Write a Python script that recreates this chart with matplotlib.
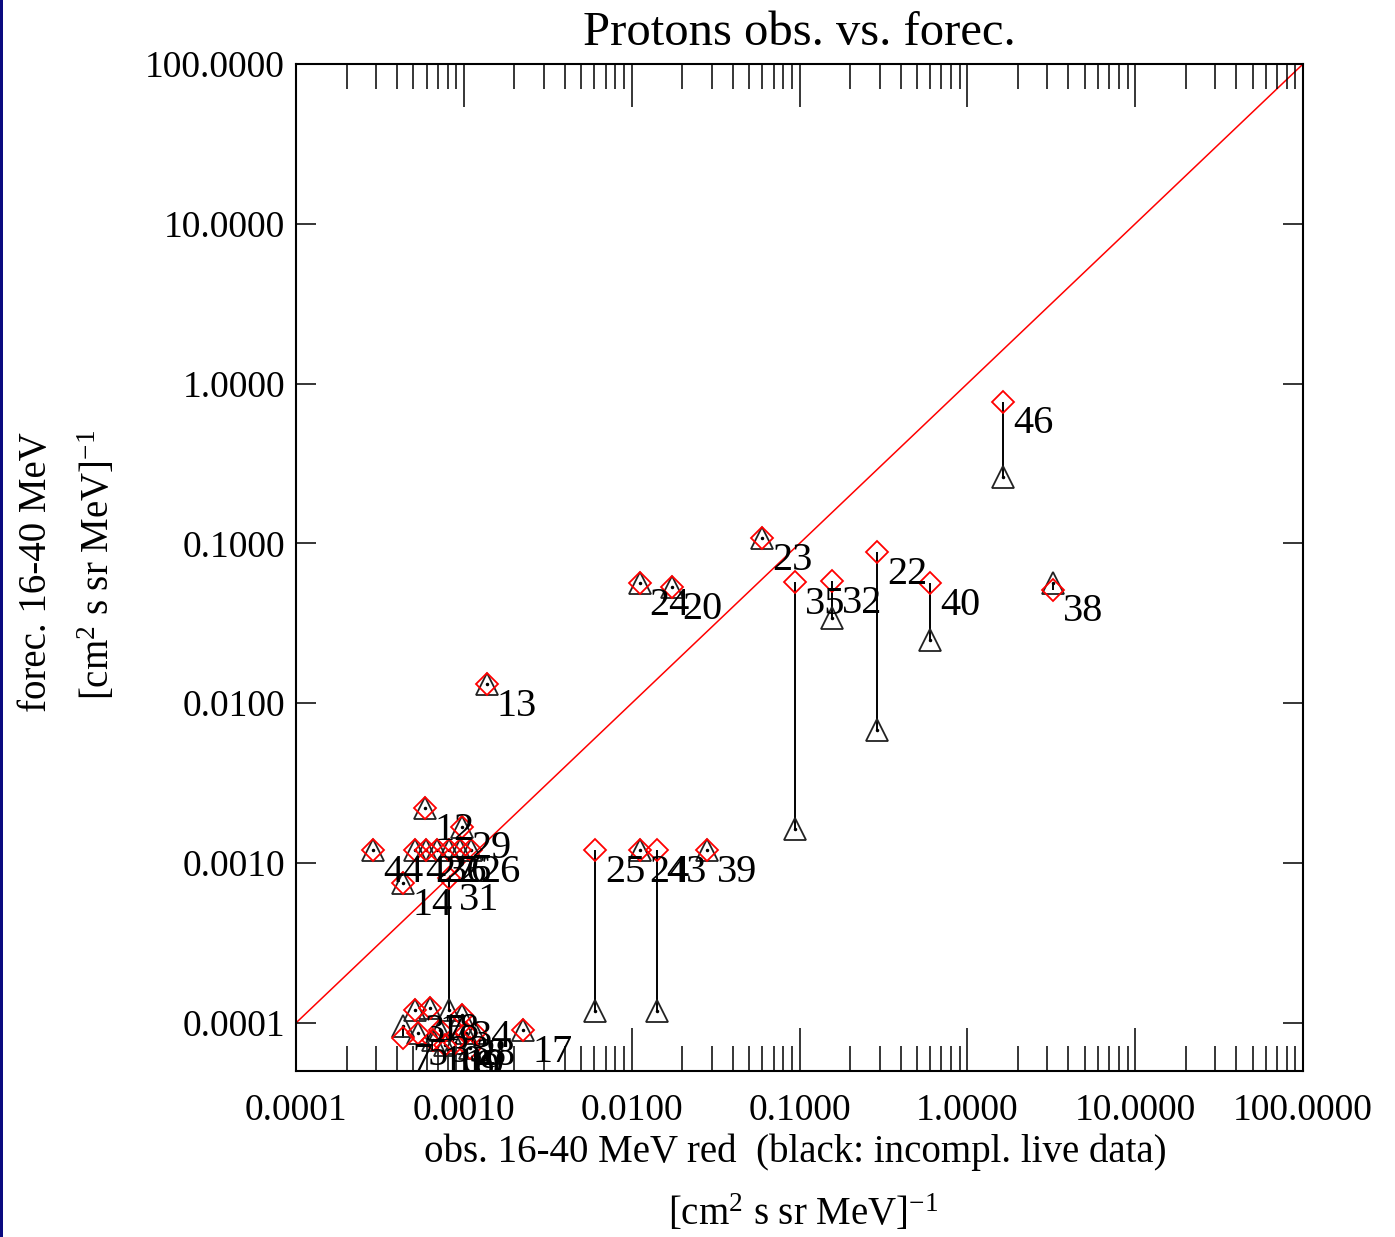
import numpy as np
import matplotlib.pyplot as plt
from matplotlib.ticker import LogLocator, FixedLocator, NullLocator, FuncFormatter
from matplotlib.patches import Rectangle

plt.rcParams['font.family'] = ['Liberation Serif', 'DejaVu Serif']
plt.rcParams['mathtext.fontset'] = 'custom'
plt.rcParams['mathtext.rm'] = 'Liberation Serif'
plt.rcParams['mathtext.it'] = 'Liberation Serif:italic'

# event labels, observed flux (x), forecast from red data and from incomplete live data (black)
labels = ['46', '38', '40', '22', '32', '35', '23', '24', '20', '13',
          '25', '24', '43', '39', '12', '29', '14', '31',
          '44', '42', '27', '36', '2', '6', '26',
          '7', '37', '5', '18', '10', '33', '16', '19', '34', '28', '9', '8', '17']
obs = [1.64, 3.25, 0.600, 0.290, 0.156, 0.0938, 0.0598, 0.0112, 0.0174, 0.00137,
       0.00605, 0.0112, 0.01415, 0.0281, 0.000588, 0.000975, 0.000434, 0.000817,
       0.000288, 0.000512, 0.000595, 0.000692, 0.000817, 0.000949, 0.00110,
       0.000434, 0.000512, 0.000534, 0.000628, 0.000654, 0.000721, 0.000771,
       0.000886, 0.000975, 0.00103, 0.00109, 0.00117, 0.00225]
fc_red = [0.770, 0.0513, 0.0567, 0.0885, 0.0583, 0.0575, 0.108, 0.0567, 0.0535, 0.0132,
          0.00121, 0.00121, 0.00121, 0.00121, 0.00221, 0.00169, 0.000751, 0.000808,
          0.00121, 0.00121, 0.00121, 0.00121, 0.00121, 0.00121, 0.00121,
          8.0e-5, 1.21e-4, 8.6e-5, 1.24e-4, 7.8e-5, 9.0e-5, 7.3e-5,
          7.5e-5, 1.12e-4, 8.6e-5, 7.0e-5, 8.6e-5, 9.0e-5]
fc_black = [0.262, 0.0567, 0.0249, 0.00683, 0.0342, 0.00164, 0.108, 0.0567, 0.0535, 0.0132,
            0.000119, 0.00121, 0.000119, 0.00121, 0.00221, 0.00169, 0.000751, 0.000121,
            0.00121, 0.00121, 0.00121, 0.00121, 0.00121, 0.00121, 0.00121,
            9.6e-5, 1.21e-4, 8.6e-5, 1.24e-4, 7.8e-5, 9.0e-5, 7.3e-5,
            7.5e-5, 1.12e-4, 8.6e-5, 7.0e-5, 8.6e-5, 9.0e-5]

decades = [1e-4, 1e-3, 1e-2, 1e-1, 1e0, 1e1, 1e2]

fig = plt.figure(figsize=(13.95, 12.37), dpi=100)
fig.add_artist(Rectangle((0, 0), 3 / 1395, 1, transform=fig.transFigure,
                         color='#0a0a80', lw=0))
ax = fig.add_axes([0.2122, 0.1342, 0.7219, 0.8141])
ax.set_xscale('log')
ax.set_yscale('log')
ax.set_xlim(1e-4, 100)
ax.set_ylim(5e-5, 100)

ax.plot([1e-4, 100], [1e-4, 100], color='red', lw=1.1, zorder=1)
ax.vlines(obs, fc_black, fc_red, color='black', lw=1.4, zorder=2)
ax.plot(obs, fc_black, ls='none', marker='^', ms=16, mfc='none', mec='#222222', mew=1.3, zorder=3)
ax.plot(obs, fc_black, ls='none', marker='.', ms=3, color='black', zorder=3)
ax.plot(obs, fc_red, ls='none', marker='D', ms=11, mfc='none', mec='red', mew=1.3, zorder=4)
for lab, x, y in zip(labels, obs, fc_red):
    ax.annotate(lab, (x, y), xytext=(7, -16), textcoords='offset points',
                ha='left', va='center', fontsize=29, clip_on=True, zorder=5)

fmt = FuncFormatter(lambda v, p: '%.4f' % v)
ax.xaxis.set_major_locator(FixedLocator(decades))
ax.xaxis.set_minor_locator(LogLocator(base=10, subs=np.arange(2, 10), numticks=20))
ax.xaxis.set_major_formatter(fmt)
ax.yaxis.set_major_locator(FixedLocator(decades))
ax.yaxis.set_minor_locator(NullLocator())
ax.yaxis.set_major_formatter(fmt)

ax.tick_params(axis='x', which='both', direction='in', top=True, bottom=True, width=1.1)
ax.tick_params(axis='x', which='major', length=31, pad=16, labelsize=27)
ax.tick_params(axis='x', which='minor', length=18)
ax.tick_params(axis='y', which='major', direction='in', left=True, right=True,
               length=14.5, width=1.1, pad=8, labelsize=27)
for s in ax.spines.values():
    s.set_linewidth(1.5)

ax.set_title('Protons obs. vs. forec.', fontsize=35, pad=14)
fig.text(0.570, 0.0687, 'obs. 16-40 MeV red  (black: incompl. live data)',
         ha='center', va='center', fontsize=28)
fig.text(0.576, 0.019, r'[cm$^2$ s sr MeV]$^{-1}$', ha='center', va='center', fontsize=28)
fig.text(0.026, 0.5376, 'forec. 16-40 MeV', rotation=90, ha='center', va='center', fontsize=28)
fig.text(0.070, 0.543, r'[cm$^2$ s sr MeV]$^{-1}$', rotation=90, ha='center', va='center',
         fontsize=28)

fig.savefig('out.png', dpi=100)
